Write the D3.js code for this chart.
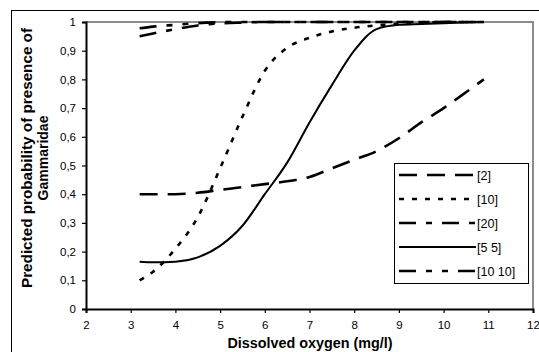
<!DOCTYPE html>
<html>
<head>
<meta charset="utf-8">
<script src="https://d3js.org/d3.v7.min.js"></script>
<style>
body { margin: 0; background: #fff; }
text { font-family: "Liberation Sans", Arial, sans-serif; }
</style>
</head>
<body>
<svg id="chart" width="539" height="352"></svg>
<script>
// dissolved oxygen values where the curves are sampled
var oxygen = [3.2, 3.5, 4, 4.5, 5, 5.5, 6, 6.5, 7, 7.5, 8, 8.5, 9, 9.5, 10, 10.5, 10.9];

var seriesNames = ["[2]", "[10]", "[20]", "[5 5]", "[10 10]"];

var p2    = [0.40, 0.40, 0.40, 0.405, 0.415, 0.425, 0.435, 0.445, 0.46, 0.49, 0.52, 0.55, 0.595, 0.65, 0.70, 0.755, 0.80];
var p10   = [0.10, 0.13, 0.21, 0.32, 0.49, 0.67, 0.83, 0.91, 0.945, 0.967, 0.98, 0.988, 0.994, 0.998, 1, 1, 1];
var p20   = [0.95, 0.96, 0.975, 0.988, 0.995, 0.998, 1, 1, 1, 1, 1, 1, 1, 1, 1, 1, 1];
var p55   = [0.165, 0.163, 0.165, 0.18, 0.22, 0.29, 0.40, 0.51, 0.65, 0.78, 0.90, 0.975, 0.99, 0.993, 0.996, 0.998, 1];
var p1010 = [0.978, 0.984, 0.99, 0.996, 0.999, 1, 1, 1, 1, 1, 1, 1, 1, 1, 1, 1, 1];

var xTicks = [2, 3, 4, 5, 6, 7, 8, 9, 10, 11, 12];
var yTicks = [0, 0.1, 0.2, 0.3, 0.4, 0.5, 0.6, 0.7, 0.8, 0.9, 1];

var allValues = [p2, p10, p20, p55, p1010];
var dashes = ["18,10", "5,8", "17,10,6,10", null, "17,10,6,10,6,10"];
var widths = [2.6, 2.6, 2.6, 2, 2.6];

var plotLeft = 86, plotRight = 533, plotTop = 22, plotBottom = 309;

var svg = d3.select("#chart");

// outer frame (runs off the picture on right and bottom)
svg.append("rect")
    .attr("x", 11.5).attr("y", 10.5)
    .attr("width", 600).attr("height", 400)
    .attr("fill", "none").attr("stroke", "#000").attr("stroke-width", 1);

var x = d3.scaleLinear().domain([2, 12]).range([plotLeft, plotRight]);
var y = d3.scaleLinear().domain([0, 1]).range([plotBottom, plotTop]);

// plot border, grey on top and right
svg.append("path")
    .attr("d", "M" + plotLeft + "," + plotTop + "H" + plotRight + "V" + plotBottom)
    .attr("fill", "none").attr("stroke", "#8c8c8c").attr("stroke-width", 2);

var comma = function(d) { return String(d).replace(".", ","); };

var xAxis = svg.append("g")
    .attr("transform", "translate(0," + plotBottom + ")")
    .call(d3.axisBottom(x).tickValues(xTicks).tickSize(4).tickPadding(8).tickFormat(comma));

var yAxis = svg.append("g")
    .attr("transform", "translate(" + plotLeft + ",0)")
    .call(d3.axisLeft(y).tickValues(yTicks).tickSize(4).tickPadding(6).tickFormat(comma));

[xAxis, yAxis].forEach(function(g) {
  g.select(".domain").attr("stroke", "#000").attr("stroke-width", 2);
  g.selectAll(".tick line").attr("stroke", "#000").attr("stroke-width", 1.2);
  g.selectAll(".tick text").attr("font-size", 11.5).attr("fill", "#000")
    .style("font-family", "'Liberation Sans', Arial, sans-serif");
});

var line = d3.line()
    .x(function(d, i) { return x(oxygen[i]); })
    .y(function(d) { return y(d); })
    .curve(d3.curveMonotoneX);

allValues.forEach(function(vals, i) {
  svg.append("path")
      .attr("d", line(vals))
      .attr("fill", "none")
      .attr("stroke", "#000")
      .attr("stroke-width", widths[i])
      .attr("stroke-dasharray", dashes[i]);
});

// legend
var legend = svg.append("g");
legend.append("rect")
    .attr("x", 394.5).attr("y", 163.5)
    .attr("width", 134).attr("height", 120)
    .attr("fill", "#fff").attr("stroke", "#000").attr("stroke-width", 1);

seriesNames.forEach(function(name, i) {
  var ly = 175 + i * 24;
  legend.append("line")
      .attr("x1", 399).attr("x2", 476)
      .attr("y1", ly).attr("y2", ly)
      .attr("stroke", "#000")
      .attr("stroke-width", widths[i])
      .attr("stroke-dasharray", dashes[i]);
  legend.append("text")
      .attr("x", 477).attr("y", ly + 4.5)
      .attr("font-size", 12.5)
      .text(name);
});

// axis titles
svg.append("text")
    .attr("x", 310).attr("y", 348)
    .attr("text-anchor", "middle")
    .attr("font-size", 14).attr("font-weight", "bold")
    .attr("textLength", 165).attr("lengthAdjust", "spacingAndGlyphs")
    .text("Dissolved oxygen (mg/l)");

var yTitle = svg.append("text")
    .attr("transform", "translate(32,158) rotate(-90)")
    .attr("text-anchor", "middle")
    .attr("font-size", 14).attr("font-weight", "bold");
yTitle.append("tspan").attr("x", 0).attr("y", 0)
    .attr("textLength", 260).attr("lengthAdjust", "spacingAndGlyphs")
    .text("Predicted probability of presence of");
yTitle.append("tspan").attr("x", 0).attr("y", 16)
    .text("Gammaridae");
</script>
</body>
</html>
